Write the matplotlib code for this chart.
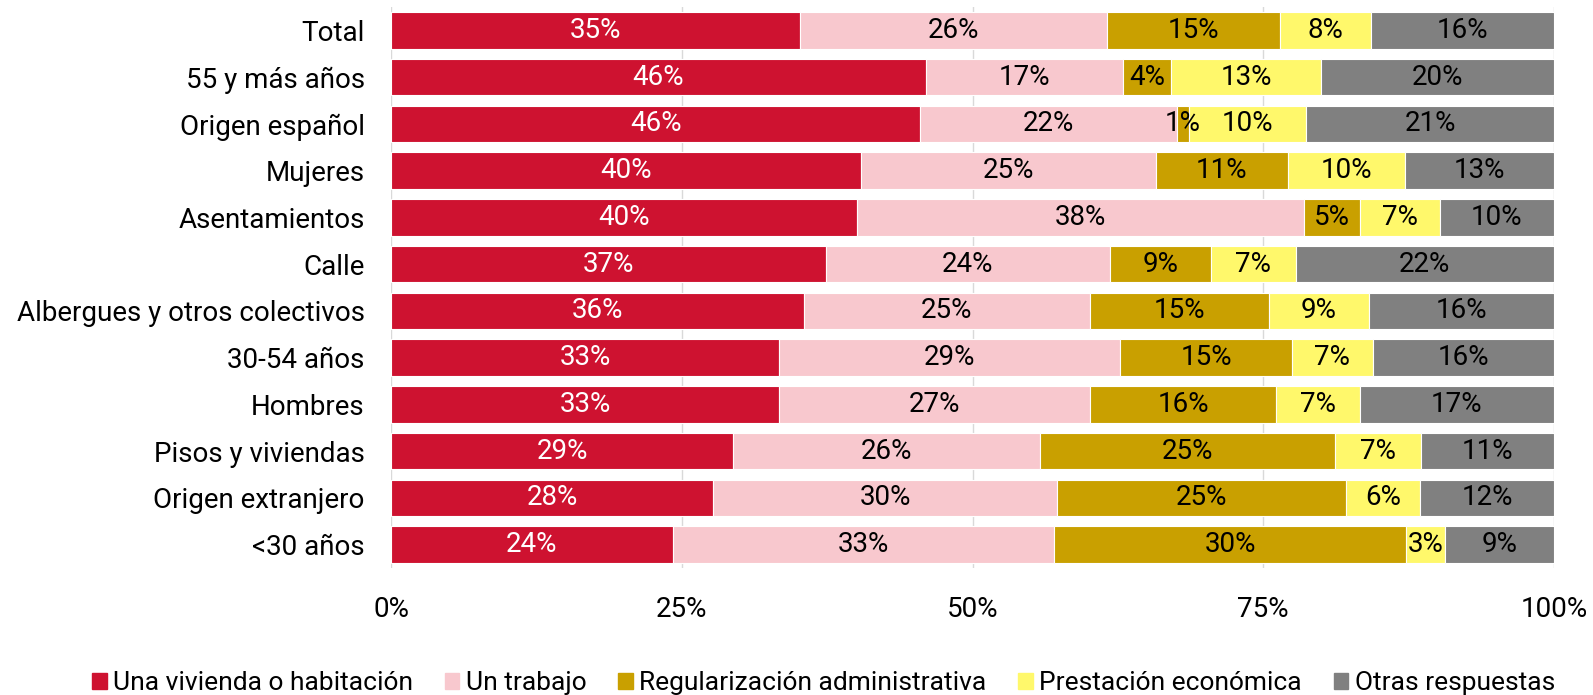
import matplotlib.pyplot as plt
from matplotlib.patches import Patch
import numpy as np

plt.rcParams['font.family'] = ['Roboto', 'DejaVu Sans']

groups = ["Total", "55 y más años", "Origen español", "Mujeres", "Asentamientos",
          "Calle", "Albergues y otros colectivos", "30-54 años", "Hombres",
          "Pisos y viviendas", "Origen extranjero", "<30 años"]

series_names = ["Una vivienda o habitación", "Un trabajo", "Regularización administrativa",
                "Prestación económica", "Otras respuestas"]

# values in %
vivienda     = [35.2, 46.0, 45.5, 40.4, 40.1, 37.4, 35.5, 33.4, 33.4, 29.4, 27.7, 24.2]
trabajo      = [26.4, 16.9, 22.1, 25.4, 38.4, 24.4, 24.6, 29.3, 26.7, 26.4, 29.6, 32.8]
regulariz    = [14.8, 4.2, 1.0, 11.3, 4.8, 8.7, 15.4, 14.8, 16.0, 25.4, 24.8, 30.3]
prestacion   = [7.9, 12.9, 10.1, 10.1, 6.9, 7.3, 8.6, 6.9, 7.2, 7.4, 6.4, 3.3]
otras        = [15.7, 20.0, 21.3, 12.8, 9.8, 22.2, 15.9, 15.6, 16.7, 11.4, 11.5, 9.4]

colors = ["#CE1230", "#F8C8CE", "#C9A000", "#FFF86B", "#808080"]
text_colors = ["white", "black", "black", "black", "black"]

fig = plt.figure(figsize=(15.93, 6.95), dpi=100)
ax = fig.add_axes([0.2455, 0.1827, 0.73, 0.8071])

y = np.arange(len(groups))
left = np.zeros(len(groups))
for name, vals, col, tcol in zip(series_names, [vivienda, trabajo, regulariz, prestacion, otras],
                                 colors, text_colors):
    vals = np.array(vals)
    bars = ax.barh(y, vals, left=left, height=0.78, color=col, edgecolor="white",
                   linewidth=0.8, label=name, zorder=2)
    labels = ["%d%%" % round(v) for v in vals]
    ax.bar_label(bars, labels=labels, label_type="center", color=tcol, fontsize=20)
    left += vals

ax.set_xlim(0, 100)
ax.set_ylim(len(groups) - 0.5, -0.5)
ax.set_yticks(y)
ax.set_yticklabels(groups, fontsize=20)
ax.set_xticks([0, 25, 50, 75, 100])
ax.set_xticklabels(["0%", "25%", "50%", "75%", "100%"], fontsize=20)
ax.tick_params(length=0)
ax.tick_params(axis="x", pad=20)
ax.tick_params(axis="y", pad=19)
ax.grid(axis="x", color="#D9D9D9", linewidth=1, zorder=0)
for s in ax.spines.values():
    s.set_visible(False)

handles = [Patch(color=c) for c in colors]
fig.legend(handles, series_names, loc="center", bbox_to_anchor=(0.517, 0.017), ncol=5,
           frameon=False, fontsize=19, handlelength=0.55, handleheight=0.55,
           handletextpad=0.25, columnspacing=1.2)

fig.savefig("out.png", dpi=100)
